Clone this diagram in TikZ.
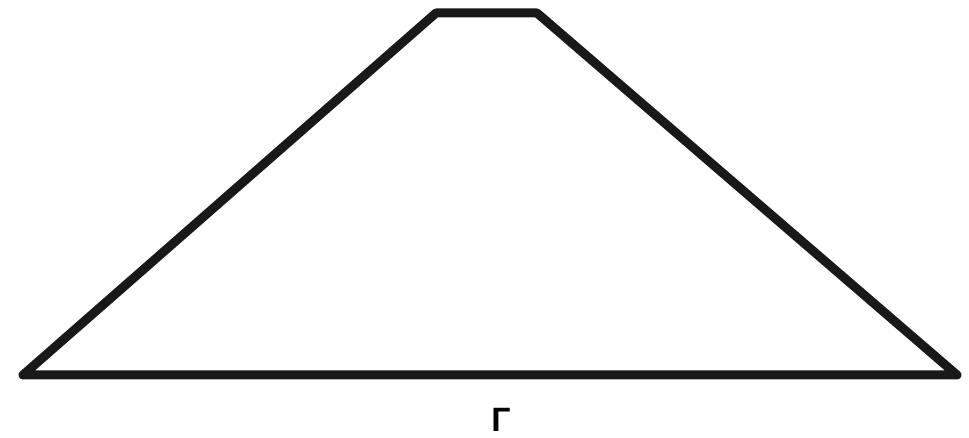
\documentclass[tikz,border=0pt]{standalone}
\usepackage{fontspec}
\setmainfont{Liberation Sans}
\begin{document}
\begin{tikzpicture}[x=0.025cm,y=-0.025cm,font=\sffamily]
\tikzset{outline/.style={line width=6.4pt,line join=round,line cap=round,black!90}}
\useasboundingbox (0,0) rectangle (969,438);

% corners of the trapezoid
\coordinate (BL) at (23,375);
\coordinate (TL) at (436,13);
\coordinate (TR) at (537,13);
\coordinate (BR) at (957,375);
\draw[outline] (BL)--(TL)--(TR)--(BR)--cycle;

\node[font=\fontsize{24}{27}\selectfont\bfseries] (label) at (501,420) {Г};
\end{tikzpicture}
\end{document}
